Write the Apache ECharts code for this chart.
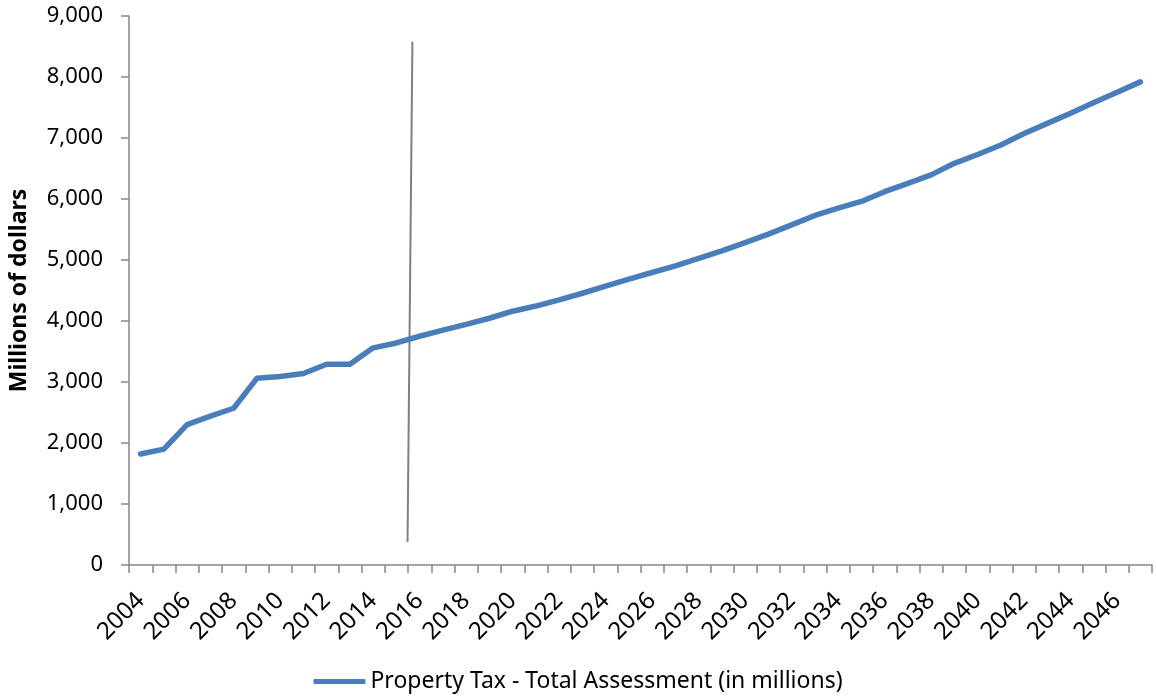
<!DOCTYPE html>
<html>
<head>
<meta charset="utf-8">
<style>
  html, body { margin: 0; padding: 0; background: #ffffff; }
  #chart { width: 1156px; height: 700px; }
</style>
<script src="https://cdn.jsdelivr.net/npm/echarts@6/dist/echarts.min.js"></script>
</head>
<body>
<div id="chart"></div>
<script>
// Fiscal years on the horizontal axis
const years = [];
for (let y = 2004; y <= 2047; y++) years.push(String(y));

// Property tax total assessment, millions of dollars
const assessment = [
  1820, 1900, 2300, 2440, 2570, 3060, 3090, 3140, 3290, 3290,
  3560, 3640, 3750, 3850, 3945, 4045, 4160, 4245, 4345, 4455,
  4570, 4685, 4795, 4905, 5025, 5150, 5285, 5425, 5575, 5730,
  5850, 5960, 6120, 6255, 6395, 6585, 6730, 6885, 7075, 7240,
  7405, 7580, 7750, 7920
];

// Divider between actuals and projections: [position in years from 2004, value]
const divider = [[12.19, 8580], [11.98, 375]];

const seriesName = 'Property Tax - Total Assessment (in millions)';
const font = 'Noto Sans';
const axisGray = '#868686';

const chart = echarts.init(document.getElementById('chart'));
chart.setOption({
  animation: false,
  backgroundColor: '#ffffff',
  grid: { left: 127, right: 4, top: 16, bottom: 135, containLabel: false },
  legend: {
    bottom: 2,
    left: 'center',
    itemWidth: 52,
    itemHeight: 5,
    itemGap: 10,
    icon: 'roundRect',
    data: [seriesName],
    textStyle: { fontFamily: font, fontSize: 23, color: '#000000' }
  },
  xAxis: [
    {
      type: 'category',
      data: years,
      boundaryGap: true,
      axisLine: { lineStyle: { color: axisGray, width: 1.5 } },
      axisTick: { show: true, interval: 0, length: 8, lineStyle: { color: axisGray, width: 1.5 } },
      axisLabel: {
        interval: 1,
        rotate: 45,
        margin: 32,
        fontFamily: font,
        fontSize: 24,
        color: '#000000'
      },
      splitLine: { show: false }
    },
    {
      type: 'value',
      min: 0,
      max: years.length,
      show: false
    }
  ],
  yAxis: {
    type: 'value',
    min: 0,
    max: 9000,
    interval: 1000,
    name: 'Millions of dollars',
    nameLocation: 'middle',
    nameGap: 98,
    nameRotate: 90,
    nameTextStyle: { fontFamily: font, fontSize: 23, fontWeight: 'bold', color: '#000000' },
    axisLine: { show: true, lineStyle: { color: axisGray, width: 1.5 } },
    axisTick: { show: true, length: 8, lineStyle: { color: axisGray, width: 1.5 } },
    axisLabel: {
      margin: 26,
      fontFamily: font,
      fontSize: 22,
      color: '#000000',
      formatter: v => v.toLocaleString('en-US')
    },
    splitLine: { show: false }
  },
  series: [
    {
      name: seriesName,
      type: 'line',
      data: assessment,
      symbol: 'none',
      lineStyle: { color: '#4a7ebb', width: 5.5, cap: 'round', join: 'round' },
      itemStyle: { color: '#4a7ebb' },
      z: 3
    },
    {
      name: 'divider',
      type: 'line',
      xAxisIndex: 1,
      data: divider,
      symbol: 'none',
      silent: true,
      lineStyle: { color: '#808080', width: 2 },
      z: 2
    }
  ]
});
</script>
</body>
</html>
